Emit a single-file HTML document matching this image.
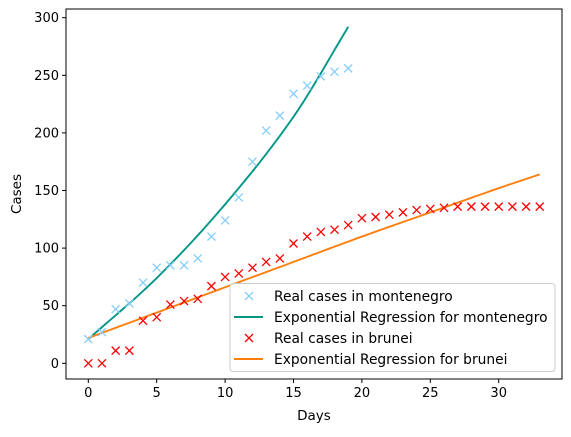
<!DOCTYPE html>
<html><head><meta charset="utf-8"><style>
body{margin:0;background:#fff}
svg text{font-family:"DejaVu Sans","Liberation Sans",sans-serif;fill:#000}
</style></head><body>
<svg id="chart" width="571" height="432" xmlns="http://www.w3.org/2000/svg">
<g id="plot"></g>
</svg>
<script>
const xTicks=[0,5,10,15,20,25,30];
const yTicks=[0,50,100,150,200,250,300];
const montDays=[0,1,2,3,4,5,6,7,8,9,10,11,12,13,14,15,16,17,18,19];
const montCases=[21,27,47,52,70,83,85,85,91,110,124,144,175,202,215,234,241,249,253,256];
const bruDays=[0,1,2,3,4,5,6,7,8,9,10,11,12,13,14,15,16,17,18,19,20,21,22,23,24,25,26,27,28,29,30,31,32,33];
const bruCases=[0,0,11,11,37,40,51,54,56,67,75,78,83,88,91,104,110,114,116,120,126,127,129,131,133,134,135,136,136,136,136,136,136,136];
const montFitDays=[0,5,10,15,19];
const montFitVals=[21,74,138,214,292];
const bruFitDays=[0,5,10,15,20,25,30,33];
const bruFitVals=[22,44,66,88,110,131,152,164];

const NS="http://www.w3.org/2000/svg";
const L=66,R=562,T=9,B=379;
function xs(v){return 88.3+v*13.68;}
function ys(v){return 363.3-v*1.152;}
const svg=document.getElementById('chart');
const g=document.getElementById('plot');
function mk(tag,at,parent){const e=document.createElementNS(NS,tag);for(const k in at)e.setAttribute(k,at[k]);(parent||svg).appendChild(e);return e;}

function smoothPath(xsArr,ysArr){
  let d='';
  const n=xsArr.length;
  for(let i=0;i<n-1;i++){
    const x0=xsArr[i],x1=xsArr[i+1];
    const y0=ysArr[i],y1=ysArr[i+1];
    const ym=i>0?ysArr[i-1]:2*y0-y1, yp=i<n-2?ysArr[i+2]:2*y1-y0;
    const xm=i>0?xsArr[i-1]:2*x0-x1, xp=i<n-2?xsArr[i+2]:2*x1-x0;
    const m0=(y1-ym)/(x1-xm), m1=(yp-y0)/(xp-x0);
    for(let s=0;s<=10;s++){
      const t=s/10,h=x1-x0;
      const h00=2*t*t*t-3*t*t+1,h10=t*t*t-2*t*t+t,h01=-2*t*t*t+3*t*t,h11=t*t*t-t*t;
      const y=h00*y0+h10*h*m0+h01*y1+h11*h*m1;
      const x=x0+t*h;
      d+=(d?'L':'M')+xs(x).toFixed(2)+' '+ys(y).toFixed(2);
    }
  }
  return d;
}

const mf=mk('path',{d:smoothPath(montFitDays,montFitVals),fill:'none',stroke:'#009688','stroke-width':1.9},g);


const bf=mk('path',{d:smoothPath(bruFitDays,bruFitVals),fill:'none',stroke:'#ff7f0e','stroke-width':1.9},g);



function cross(x,y,col,parent){
  const s=4;
  return mk('path',{d:`M${x-s} ${y-s}L${x+s} ${y+s}M${x-s} ${y+s}L${x+s} ${y-s}`,stroke:col,'stroke-width':1.3,fill:'none'},parent);
}
montDays.forEach((d,i)=>{
  const p=cross(xs(d),ys(montCases[i]),'#87cefa',g);
  
  
});
bruDays.forEach((d,i)=>{
  const p=cross(xs(d),ys(bruCases[i]),'#ff0000',g);
  
  
});

const fr=mk('rect',{x:L,y:T,width:R-L,height:B-T,fill:'none',stroke:'#000','stroke-width':1});


xTicks.forEach(v=>{
  const x=xs(v);
  mk('line',{x1:x,x2:x,y1:B,y2:B+4,stroke:'#000'});
  const t=mk('text',{x:x,y:B+18,'text-anchor':'middle','font-size':'13'});
  t.textContent=v;
  
  
});
yTicks.forEach(v=>{
  const y=ys(v);
  mk('line',{x1:L-4,x2:L,y1:y,y2:y,stroke:'#000'});
  const t=mk('text',{x:L-7,y:y+4.5,'text-anchor':'end','font-size':'13'});
  t.textContent=v;
  
  
});
const xl=mk('text',{x:314,y:420,'text-anchor':'middle','font-size':'13.5'});
xl.textContent='Days';


const yl=mk('text',{x:21,y:194,'text-anchor':'middle','font-size':'13.5',transform:'rotate(-90 21 194)'});
yl.textContent='Cases';



const lg=mk('g',{});


mk('rect',{x:230,y:283.5,width:325,height:88,rx:3,fill:'rgba(255,255,255,0.8)',stroke:'#ccc'},lg);
const entries=[['Real cases in montenegro','m','#87cefa'],['Exponential Regression for montenegro','l','#009688'],['Real cases in brunei','m','#ff0000'],['Exponential Regression for brunei','l','#ff7f0e']];
entries.forEach((e,i)=>{
  const y=296+i*21;
  if(e[1]==='m')cross(249,y,e[2],lg);
  else mk('line',{x1:234,x2:263,y1:y,y2:y,stroke:e[2],'stroke-width':1.9},lg);
  const t=mk('text',{x:274,y:y+5,'font-size':'13.8',textLength:'',}, lg);
  t.removeAttribute('textLength');
  t.textContent=e[0];
  
  
});
</script>
</body></html>
